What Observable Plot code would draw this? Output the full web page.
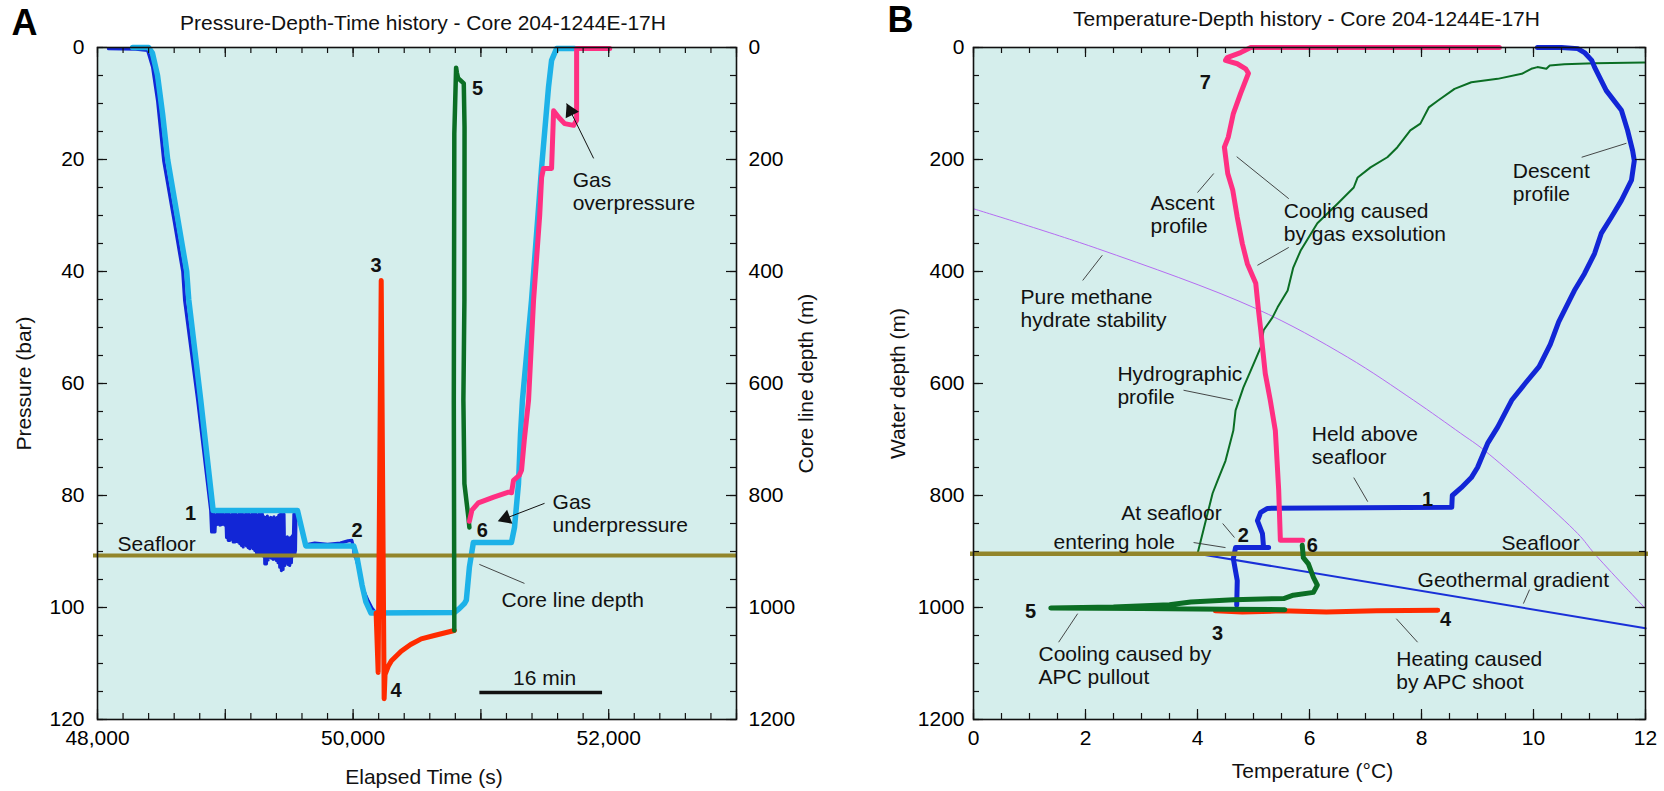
<!DOCTYPE html>
<html><head><meta charset="utf-8">
<script src="https://cdn.jsdelivr.net/npm/d3@7"></script>
<script src="https://cdn.jsdelivr.net/npm/@observablehq/plot@0.6"></script>
<style>
html,body{margin:0;padding:0;background:#fff;overflow:hidden}
#wrap{position:relative;width:1664px;height:791px}
#wrap svg{position:absolute;top:0}
</style></head><body><div id="wrap"></div>
<script>
// ---------------- Panel A data: [elapsed time (s), pressure (bar)] ----------------
const pressureLog = [[48086,0.2],[48300,0.3],[48392,0.5],[48431,3.5],[48470,9.5],[48518,20.2],[48600,31],[48667,40],[48682,45.2],[48784,63],[48886,82.7],
[48893,86.5],[48899,83.3],[48906,86.5],[48912,83.3],[48919,86.5],[48925,83.5],[48932,85.2],[48938,83.3],[48945,85.1],[48951,83.3],[48958,85.3],[48964,83.4],[48971,85.2],[48978,83.3],[48984,85.1],[48991,83.5],[48997,85.3],[49004,83.3],[49010,87.5],[49017,83.4],[49023,88.0],[49030,83.3],[49036,88.0],[49043,83.5],[49049,87.8],[49056,83.3],[49062,88.3],[49069,83.4],[49075,88.3],[49082,83.3],[49088,88.2],[49095,83.5],[49101,88.3],[49108,83.3],[49114,88.6],[49121,83.4],[49127,88.9],[49134,83.3],[49140,89.2],[49147,83.5],[49153,88.7],[49160,83.3],[49166,89.0],[49173,83.4],[49179,89.3],[49186,83.3],[49192,89.5],[49199,83.5],[49205,89.2],[49212,83.3],[49218,89.5],[49225,83.4],[49231,89.8],[49238,83.3],[49244,90.2],[49251,83.5],[49257,90.4],[49264,83.3],[49270,90.4],[49277,83.4],[49283,90.3],[49290,83.3],[49296,90.8],[49303,83.8],[49309,92.2],[49316,84.0],[49322,92.2],[49329,83.7],[49335,91.5],[49342,84.2],[49348,91.0],[49355,83.9],[49361,91.2],[49368,84.1],[49374,91.4],[49381,83.8],[49387,91.3],[49394,84.2],[49400,91.6],[49407,83.9],[49413,92.0],[49420,83.5],[49426,92.8],[49433,83.3],[49439,93.4],[49446,83.4],[49452,93.2],[49459,83.3],[49465,92.5],[49472,87.6],[49478,92.0],[49485,87.4],[49491,92.3],[49498,87.6],[49504,92.5],[49511,87.5],[49517,92.0],[49524,87.2],[49530,90.8],[49537,83.3],[49543,90.5],[49549,89.8],[49553,83.3],
[49570,83.8],[49630,88.8],[49700,88.5],[49800,88.7],[49900,88.5],[49960,88.1],[49990,88.0],[50000,89.0],[50010,90.8],[50020,91.0],[50050,93.5],[50080,96.8],[50118,98.8],[50150,100.2],[50180,101]];
const coreLineDepth = [[48275,0],[48400,0],[48430,1],[48470,5],[48510,12],[48549,20],[48620,29.5],[48698,40],[48714,45],[48808,63],[48905,82.7],[49565,82.7],[49630,89],[50005,89],[50030,91],[50070,96],[50100,99],[50140,101],[50792,100.9],[50831,100.2],[50871,99.3],[50886,98.7],[50910,92.8],[50941,88.4],[51239,88.4],[51263,85.7],[51294,77.9],[51310,69],[51325,63],[51396,45.2],[51475,21.4],[51529,7.1],[51553,2.3],[51592,0.2],[51733,0.2]];
const apcShootA = [[50180,101],[50196,111.6],[50220,41.6],[50243,116.3],[50250,112],[50275,110.5],[50300,109.5],[50376,107.8],[50450,106.6],[50533,105.6],[50635,105],[50792,104.1]];
const apcPulloutA = [[50792,104.1],[50788,63],[50792,15.4],[50806,3.6],[50812,4.5],[50822,5.5],[50866,6.4],[50872,14.3],[50871,45],[50863,63],[50871,77.9],[50902,83.9],[50910,85.7]];
const ascentA = [[50910,84.6],[50930,82.6],[50980,81.3],[51100,80.3],[51216,79.4],[51240,79.5],[51255,77.3],[51300,76.4],[51318,75.5],[51340,70],[51373,63],[51412,45.2],[51460,30],[51475,23.2],[51490,21.6],[51553,21.6],[51569,11.3],[51610,12.5],[51655,13.6],[51725,13.9],[51749,13.0],[51749,0.2],[52008,0.2]];
const seafloorBar = 90.7;
const metresPerBar = 10;
const scaleBarStart = 50988, scaleBarSeconds = 960, scaleBarP = 115.2;

const xTicksA = [48000, 50000, 52000];
const yTicksA = [0, 20, 40, 60, 80, 100, 120];
const depthTicksM = [0, 200, 400, 600, 800, 1000, 1200];

const labelsA = [
  {x: 48157, y: 88.6, t: "Seafloor"},
  {x: 51718, y: 25.7, t: "Gas\noverpressure"},
  {x: 51561, y: 83.1, t: "Gas\nunderpressure"},
  {x: 51161, y: 98.6, t: "Core line depth"}
];
const scaleLabelA = [{x: 51498, y: 112.6, t: "16 min"}];
const numbersA = [
  {x: 48729, y: 83.2, t: "1"}, {x: 50031, y: 86.3, t: "2"}, {x: 50180, y: 38.9, t: "3"},
  {x: 50337, y: 114.8, t: "4"}, {x: 50973, y: 7.3, t: "5"}, {x: 51012, y: 86.3, t: "6"}
];
const leadersA = [{x1: 50988, y1: 92.3, x2: 51341, y2: 95.7}];
const arrowsA = [
  {x1: 51882, y1: 19.8, x2: 51671, y2: 10.0, rot: -26},
  {x1: 51498, y1: 81.4, x2: 51145, y2: 84.5, rot: -111}
];

// ---------------- Panel B data: [temperature (°C), water depth (m)] ----------------
const descentProfile = [[10.07,0],[10.5,0],[10.79,2],[10.91,9],[11.04,23],[11.09,35],[11.3,77],[11.57,112],[11.68,148],[11.77,184],[11.8,202],[11.75,237],[11.57,273],[11.39,303],[11.21,332],[11.09,368],[10.91,404],[10.73,434],[10.64,452],[10.45,490],[10.3,530],[10.1,570],[9.85,600],[9.61,630],[9.36,678],[9.18,707],[9.0,750],[8.89,768],[8.71,786],[8.55,800],[8.54,821],[5.25,823],[5.13,830],[5.07,845],[5.16,868],[5.18,893],[5.27,893],[4.68,893],[4.64,913],[4.71,952],[4.7,996]];
const ascentProfile = [[5.88,880],[5.48,880],[5.45,791],[5.39,684],[5.3,630],[5.21,582],[5.16,535],[5.13,505],[5.09,470],[5.04,421],[4.89,386],[4.8,350],[4.71,303],[4.63,255],[4.54,225],[4.48,178],[4.55,160],[4.64,118],[4.77,82],[4.91,46],[4.86,38],[4.71,29],[4.5,23],[4.53,18],[4.77,9],[4.95,0],[9.39,0]];
const apcShootB = [[4.32,1006],[4.8,1008],[5.5,1006],[6.3,1008],[7.2,1006],[8.29,1005]];
const apcPulloutB = [[5.56,1004],[4.5,1003],[3.0,1002],[1.38,1001],[2.5,999],[3.5,995],[3.88,990],[4.64,986],[5.54,984],[5.71,978],[6.07,973],[6.14,960],[6.07,946],[5.98,922],[5.89,911],[5.87,889]];
const hydrographic = [[4.0,904],[4.27,796],[4.36,773],[4.5,738],[4.64,684],[4.68,648],[4.82,607],[4.95,577],[5.13,535],[5.18,505],[5.34,482],[5.43,464],[5.61,434],[5.71,393],[5.84,363],[6.14,314],[6.5,279],[6.79,250],[6.86,232],[7.09,214],[7.39,196],[7.57,178],[7.8,148],[7.98,136],[8.13,107],[8.29,95],[8.59,74],[8.89,62],[9.36,56],[9.79,47],[9.96,38],[10.07,35],[10.23,38],[10.29,32],[10.55,30],[11.09,28],[11.98,27]];
const geothermal = [[4.0,904],[12,1037]];
const methaneStability = [[0,288],[2.21,359],[5.04,466],[6.68,553],[7.86,630],[8.7,689],[9.13,720],[10.79,868],[11.09,904],[11.98,1000]];
const seafloorM = 904;

const xTicksB = [0, 2, 4, 6, 8, 10, 12];
const yTicksB = [0, 200, 400, 600, 800, 1000, 1200];

const labelsB = [
  {x: 3.16, y: 297, t: "Ascent\nprofile"},
  {x: 5.54, y: 311, t: "Cooling caused\nby gas exsolution"},
  {x: 9.63, y: 241, t: "Descent\nprofile"},
  {x: 0.84, y: 466, t: "Pure methane\nhydrate stability"},
  {x: 2.57, y: 603, t: "Hydrographic\nprofile"},
  {x: 6.04, y: 710, t: "Held above\nseafloor"},
  {x: 2.64, y: 830, t: "At seafloor"},
  {x: 1.43, y: 882, t: "entering hole"},
  {x: 9.43, y: 884, t: "Seafloor"},
  {x: 7.93, y: 950, t: "Geothermal gradient"},
  {x: 7.55, y: 1112, t: "Heating caused\nby APC shoot"},
  {x: 1.16, y: 1103, t: "Cooling caused by\nAPC pullout"}
];
const numbersB = [
  {x: 4.14, y: 62, t: "7"}, {x: 8.11, y: 807, t: "1"}, {x: 4.82, y: 871, t: "2"}, {x: 6.05, y: 889, t: "6"},
  {x: 8.43, y: 1021, t: "4"}, {x: 1.02, y: 1007, t: "5"}, {x: 4.36, y: 1046, t: "3"}
];
const leadersB = [
  {x1: 4.0, y1: 259, x2: 4.29, y2: 225}, {x1: 4.7, y1: 195, x2: 5.63, y2: 270}, {x1: 5.63, y1: 357, x2: 5.07, y2: 389},
  {x1: 10.86, y1: 196, x2: 11.66, y2: 171}, {x1: 2.3, y1: 371, x2: 1.95, y2: 416}, {x1: 3.75, y1: 612, x2: 4.63, y2: 630},
  {x1: 6.79, y1: 768, x2: 7.04, y2: 811}, {x1: 4.45, y1: 850, x2: 4.66, y2: 875}, {x1: 3.93, y1: 884, x2: 4.5, y2: 893},
  {x1: 9.93, y1: 968, x2: 9.82, y2: 993}, {x1: 7.93, y1: 1062, x2: 7.55, y2: 1020}, {x1: 1.52, y1: 1062, x2: 1.86, y2: 1011}
];

// ---------------- styling ----------------
const FONT = "'Liberation Sans', Arial, Helvetica, sans-serif";
const BG = "#d5eeec";
const INK = "#111";
const COL = {dark: "#1226d6", light: "#1db2e8", red: "#ff2b00", green: "#0b6e24", pink: "#ff2f82", olive: "#92852a", purple: "#b56cf2", geo: "#1a30d8"};
const pts = a => a.map(([x, y]) => ({x, y}));
const H = 791, MT = 47, MB = 72, FH = H - MT - MB;

function frameTicks(xMinor, xMajor, yMinor, yMajor, FW) {
  const s = {stroke: INK, strokeWidth: 1.2};
  return [
    Plot.ruleX(xMinor, {x: d => d, insetTop: FH - 6, ...s}),
    Plot.ruleX(xMinor, {x: d => d, insetBottom: FH - 6, ...s}),
    Plot.ruleX(xMajor, {x: d => d, insetTop: FH - 10, ...s}),
    Plot.ruleX(xMajor, {x: d => d, insetBottom: FH - 10, ...s}),
    Plot.ruleY(yMinor, {y: d => d, insetRight: FW - 6, ...s}),
    Plot.ruleY(yMinor, {y: d => d, insetLeft: FW - 6, ...s}),
    Plot.ruleY(yMajor, {y: d => d, insetRight: FW - 10, ...s}),
    Plot.ruleY(yMajor, {y: d => d, insetLeft: FW - 10, ...s})
  ];
}
const txt = (extra) => ({fontSize: 21, fill: INK, ...extra});

// ---------------- Panel A ----------------
const WA = 830, MLA = 97, MRA = 94, FWA = WA - MLA - MRA;
const plotA = Plot.plot({
  width: WA, height: H, marginLeft: MLA, marginRight: MRA, marginTop: MT, marginBottom: MB,
  style: {fontFamily: FONT, fontSize: "21px", background: "none", overflow: "visible"},
  x: {domain: [48000, 53000], label: null},
  y: {domain: [0, 120], reverse: true, label: null},
  marks: [
    Plot.frame({fill: BG}),
    Plot.line(pts(pressureLog), {x: "x", y: "y", stroke: COL.dark, strokeWidth: 3.2, strokeLinejoin: "round"}),
    Plot.line(pts(coreLineDepth), {x: "x", y: "y", stroke: COL.light, strokeWidth: 5.5, strokeLinejoin: "round"}),
    Plot.ruleY([seafloorBar], {stroke: COL.olive, strokeWidth: 4, insetLeft: -4}),
    Plot.line(pts(apcShootA), {x: "x", y: "y", stroke: COL.red, strokeWidth: 5, strokeLinejoin: "round"}),
    Plot.line(pts(apcPulloutA), {x: "x", y: "y", stroke: COL.green, strokeWidth: 4.5, strokeLinejoin: "round"}),
    Plot.line(pts(ascentA), {x: "x", y: "y", stroke: COL.pink, strokeWidth: 5, strokeLinejoin: "round"}),
    Plot.link([{x1: scaleBarStart, x2: scaleBarStart + scaleBarSeconds, y: scaleBarP}], {x1: "x1", x2: "x2", y1: "y", y2: "y", stroke: INK, strokeWidth: 3.5}),
    Plot.link(leadersA, {x1: "x1", y1: "y1", x2: "x2", y2: "y2", stroke: "#333", strokeWidth: 0.9}),
    Plot.link(arrowsA, {x1: "x1", y1: "y1", x2: "x2", y2: "y2", stroke: INK, strokeWidth: 1}),
    Plot.dot(arrowsA, {x: d => d.x1 + 0.86 * (d.x2 - d.x1), y: d => d.y1 + 0.86 * (d.y2 - d.y1), symbol: "triangle", r: 5.5, fill: INK, rotate: "rot"}),
    Plot.text(labelsA, {x: "x", y: "y", text: "t", textAnchor: "start", lineHeight: 1.1, ...txt()}),
    Plot.text(scaleLabelA, {x: "x", y: "y", text: "t", textAnchor: "middle", ...txt()}),
    Plot.text(numbersA, {x: "x", y: "y", text: "t", ...txt({fontSize: 20, fontWeight: "bold"})}),
    ...frameTicks(d3.range(48000, 53001, 200), d3.range(48000, 53001, 1000), d3.range(0, 121, 5), d3.range(0, 121, 20), FWA),
    Plot.frame({stroke: INK, strokeWidth: 1.6}),
    Plot.axisX({anchor: "bottom", ticks: xTicksA, tickSize: 0, tickPadding: 11, tickFormat: d3.format(","), label: null, fontSize: 21}),
    Plot.axisY({anchor: "left", ticks: yTicksA, tickSize: 0, tickPadding: 13, tickFormat: d => String(d), label: null, fontSize: 21}),
    Plot.axisY({anchor: "right", ticks: depthTicksM.map(m => m / metresPerBar), tickSize: 0, tickPadding: 12, tickFormat: d => String(Math.round(d * metresPerBar)), label: null, fontSize: 21}),
    Plot.text(["A"], {frameAnchor: "top-left", text: d => d, dx: -73, dy: -24, textAnchor: "middle", lineAnchor: "middle", fontSize: 36, fontWeight: "bold", fill: "#000"}),
    Plot.text(["Pressure-Depth-Time history - Core 204-1244E-17H"], {frameAnchor: "top", text: d => d, dx: 6, dy: -24, textAnchor: "middle", lineAnchor: "middle", ...txt()}),
    Plot.text(["Pressure (bar)"], {frameAnchor: "left", text: d => d, dx: -73, rotate: -90, textAnchor: "middle", lineAnchor: "middle", ...txt()}),
    Plot.text(["Core line depth (m)"], {frameAnchor: "right", text: d => d, dx: 70, rotate: -90, textAnchor: "middle", lineAnchor: "middle", ...txt()}),
    Plot.text(["Elapsed Time (s)"], {frameAnchor: "bottom", text: d => d, dx: 7, dy: 58, textAnchor: "middle", lineAnchor: "middle", ...txt()})
  ]
});

// ---------------- Panel B ----------------
const WB = 834, MLB = 143, MRB = 19, FWB = WB - MLB - MRB;
const plotB = Plot.plot({
  width: WB, height: H, marginLeft: MLB, marginRight: MRB, marginTop: MT, marginBottom: MB,
  style: {fontFamily: FONT, fontSize: "21px", background: "none", overflow: "visible"},
  x: {domain: [0, 12], label: null},
  y: {domain: [0, 1200], reverse: true, label: null},
  marks: [
    Plot.frame({fill: BG}),
    Plot.line(pts(methaneStability), {x: "x", y: "y", stroke: COL.purple, strokeWidth: 1, curve: "catmull-rom"}),
    Plot.line(pts(geothermal), {x: "x", y: "y", stroke: COL.geo, strokeWidth: 2}),
    Plot.line(pts(hydrographic), {x: "x", y: "y", stroke: COL.green, strokeWidth: 2, strokeLinejoin: "round"}),
    Plot.line(pts(descentProfile), {x: "x", y: "y", stroke: COL.dark, strokeWidth: 5, strokeLinejoin: "round"}),
    Plot.line(pts(ascentProfile), {x: "x", y: "y", stroke: COL.pink, strokeWidth: 5, strokeLinejoin: "round"}),
    Plot.ruleY([seafloorM], {stroke: COL.olive, strokeWidth: 4.5, insetLeft: -3, insetRight: -3}),
    Plot.line(pts(apcShootB), {x: "x", y: "y", stroke: COL.red, strokeWidth: 5, strokeLinejoin: "round"}),
    Plot.line(pts(apcPulloutB), {x: "x", y: "y", stroke: COL.green, strokeWidth: 5, strokeLinejoin: "round"}),
    Plot.link(leadersB, {x1: "x1", y1: "y1", x2: "x2", y2: "y2", stroke: "#333", strokeWidth: 0.9}),
    Plot.text(labelsB, {x: "x", y: "y", text: "t", textAnchor: "start", lineHeight: 1.1, ...txt()}),
    Plot.text(numbersB, {x: "x", y: "y", text: "t", ...txt({fontSize: 20, fontWeight: "bold"})}),
    ...frameTicks(d3.range(0, 12.001, 0.5), d3.range(0, 12.001, 2), d3.range(0, 1201, 50), d3.range(0, 1201, 200), FWB),
    Plot.frame({stroke: INK, strokeWidth: 1.6}),
    Plot.axisX({anchor: "bottom", ticks: xTicksB, tickSize: 0, tickPadding: 11, tickFormat: d => String(d), label: null, fontSize: 21}),
    Plot.axisY({anchor: "left", ticks: yTicksB, tickSize: 0, tickPadding: 9, tickFormat: d => String(d), label: null, fontSize: 21}),
    Plot.text(["B"], {frameAnchor: "top-left", text: d => d, dx: -73, dy: -27, textAnchor: "middle", lineAnchor: "middle", fontSize: 36, fontWeight: "bold", fill: "#000"}),
    Plot.text(["Temperature-Depth history - Core 204-1244E-17H"], {frameAnchor: "top", text: d => d, dx: -3, dy: -28, textAnchor: "middle", lineAnchor: "middle", ...txt()}),
    Plot.text(["Water depth (m)"], {frameAnchor: "left", text: d => d, dx: -75, rotate: -90, textAnchor: "middle", lineAnchor: "middle", ...txt()}),
    Plot.text(["Temperature (°C)"], {frameAnchor: "bottom", text: d => d, dx: 3, dy: 52, textAnchor: "middle", lineAnchor: "middle", ...txt()})
  ]
});

const wrap = document.getElementById("wrap");
plotA.style.left = "0px";
plotB.style.left = WA + "px";
wrap.appendChild(plotA);
wrap.appendChild(plotB);
</script></body></html>
